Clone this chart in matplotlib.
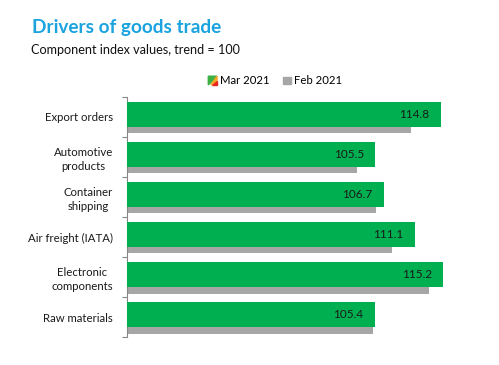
import matplotlib
matplotlib.use("Agg")
import matplotlib.pyplot as plt
import numpy as np
from matplotlib.patches import Polygon, Rectangle
from matplotlib.legend_handler import HandlerBase

plt.rcParams['font.family'] = ['Lato', 'DejaVu Sans']

categories = ["Export orders", "Automotive\nproducts", "Container\nshipping",
              "Air freight (IATA)", "Electronic\ncomponents", "Raw materials"]
mar_2021 = [114.8, 105.5, 106.7, 111.1, 115.2, 105.4]
feb_2021 = [110.6, 102.8, 105.6, 107.8, 113.2, 105.2]
series_labels = ["Mar 2021", "Feb 2021"]

GREEN = "#00B050"
GREY = "#A6A6A6"

fig = plt.figure(figsize=(4.99, 3.65), dpi=100)
W, H = 499, 365
ax_left, ax_right = 127, 477
ax_top, ax_bottom = 96.7, 337.3
ax = fig.add_axes([ax_left / W, 1 - ax_bottom / H, (ax_right - ax_left) / W, (ax_bottom - ax_top) / H])

y = np.arange(len(categories))
h = 0.62
base = 70
ax.barh(y + 0.10, np.array(feb_2021) - base, left=base, height=h, color=GREY, zorder=2)
ax.barh(y - 0.062, np.array(mar_2021) - base, left=base, height=h, color=GREEN, zorder=3)

for yi, v in zip(y, mar_2021):
    ax.text(v - 1.6, yi - 0.062, f"{v:.1f}", ha="right", va="center", fontsize=8.5, color="#1a1a1a", zorder=4)

ax.set_xlim(70, 120)
ax.set_ylim(len(categories) - 0.5, -0.5)
ax.set_yticks(y)
ax.set_yticklabels(categories, fontsize=8.2, color="#1a1a1a", linespacing=1.35,
                   multialignment="center")
ax.set_yticks(np.arange(len(categories) + 1) - 0.5, minor=True)
ax.tick_params(axis="y", which="major", length=0, pad=10)
ax.tick_params(axis="y", which="minor", length=3.5, color="#888888", width=0.8)
ax.set_xticks([])
for s in ["top", "right", "bottom"]:
    ax.spines[s].set_visible(False)
ax.spines["left"].set_color("#888888")
ax.spines["left"].set_linewidth(0.8)

fig.text(32 / W, 1 - 27 / H, "Drivers of goods trade", fontsize=13.7, fontweight="bold",
         color="#1AA3DF", ha="left", va="center")
fig.text(31 / W, 1 - 50 / H, "Component index values, trend = 100", fontsize=9.1,
         color="#111111", ha="left", va="center")


class GradHandler(HandlerBase):
    def create_artists(self, legend, orig_handle, xdescent, ydescent, width, height, fontsize, trans):
        x0, y0 = -xdescent, -ydescent
        s = min(width, height)
        x0 = x0 + width - s
        g = Polygon([[x0, y0 + s], [x0 + s, y0 + s], [x0, y0]], closed=True, color="#3CB043", transform=trans)
        o = Polygon([[x0 + s, y0 + s], [x0 + s, y0 + s * 0.3], [x0 + s * 0.3, y0]], closed=True, color="#F5A623", transform=trans)
        r = Polygon([[x0 + s, y0 + s * 0.4], [x0 + s, y0], [x0 + s * 0.4, y0]], closed=True, color="#E8281E", transform=trans)
        return [g, o, r]


class SqHandler(HandlerBase):
    def create_artists(self, legend, orig_handle, xdescent, ydescent, width, height, fontsize, trans):
        s = min(width, height) * 0.85
        x0 = -xdescent + width - s
        y0 = -ydescent + (height - s) / 2
        return [Rectangle((x0, y0), s, s, color=GREY, transform=trans)]


h1 = Rectangle((0, 0), 1, 1)
h2 = Rectangle((0, 0), 1, 1, color=GREY)
fig.legend([h1, h2], series_labels, handler_map={h1: GradHandler(), h2: SqHandler()},
           loc="center", bbox_to_anchor=(275 / W, 1 - 81 / H), ncol=2, frameon=False,
           fontsize=8.2, handlelength=0.8, handleheight=0.8, handletextpad=0.3, columnspacing=1.0)

fig.savefig("out.png", dpi=100)
